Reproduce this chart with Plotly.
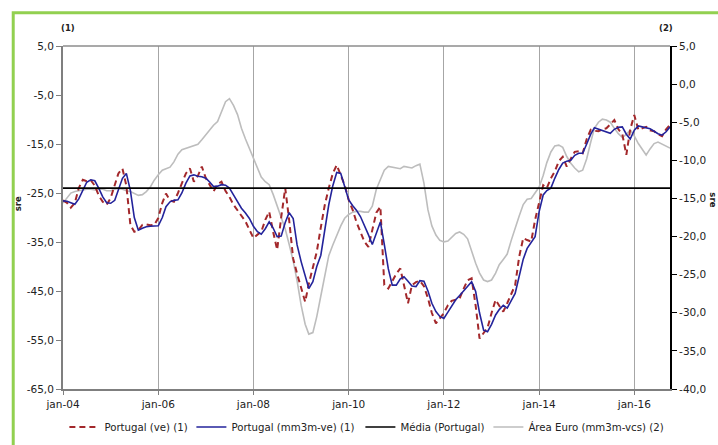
import pandas as pd
import plotly.graph_objects as go

# ---------------- data ----------------
START_MONTH = "2004-01-01"

PORTUGAL_VE = [
    -26.5, -27.0, -28.0, -27.0, -24.0, -22.3, -22.6, -22.4, -23.5, -25.5,
    -26.8, -27.4, -26.0, -23.4, -21.0, -20.0, -23.5, -31.5, -32.9, -32.6,
    -31.5, -31.4, -31.6, -31.5, -30.1, -27.0, -25.1, -26.5, -26.8, -25.0,
    -23.0, -21.0, -20.0, -22.7, -21.5, -19.6, -22.0, -23.5, -24.7, -23.2,
    -22.7, -24.6, -25.8, -27.4, -28.5, -29.5, -30.8, -32.5, -34.2, -33.5,
    -32.9, -30.5, -28.8, -33.0, -36.6, -30.0, -24.0, -30.5, -38.4, -41.5,
    -44.5, -47.2, -43.5, -40.0, -37.0, -32.0, -27.5, -24.0, -21.0, -19.3,
    -21.5, -23.4, -26.4, -28.5, -30.9, -33.0, -34.9, -36.0, -32.5, -29.0,
    -27.8, -43.8, -44.5, -43.0, -41.5, -40.4, -44.0, -47.5, -43.8, -43.2,
    -42.9, -44.0, -46.5, -49.5, -51.6, -50.5, -49.5, -47.9, -47.0, -46.8,
    -46.5, -44.5, -42.8, -42.4, -48.0, -54.7, -53.5, -52.5, -49.5, -46.8,
    -48.0, -49.2, -47.5, -45.5, -43.8, -38.0, -34.2, -34.6, -34.9, -30.5,
    -26.8, -23.4, -24.0, -22.0, -20.6, -18.5, -17.6, -19.6, -18.0, -16.6,
    -16.5, -16.9, -14.0, -12.1, -12.3, -12.4, -12.0, -11.8, -11.0, -10.1,
    -12.0, -13.0, -17.2, -12.0, -9.1, -12.1, -11.8, -11.5, -12.2, -12.4,
    -13.0, -13.4, -12.0, -11.1,
]

PORTUGAL_MM3M = [
    -26.6, -26.7, -27.0, -27.3, -26.2, -24.5, -22.8, -22.3, -22.5, -24.0,
    -25.8, -27.0, -27.1, -26.5, -24.5, -22.0, -21.0, -24.5, -30.0, -32.6,
    -32.2, -31.9, -31.8, -31.8, -31.7, -30.0, -27.8, -26.8, -26.5, -26.4,
    -25.0, -23.0, -21.5, -21.3, -21.6, -21.7, -22.0, -22.8, -23.7, -23.6,
    -23.3, -23.4, -24.0, -25.4, -26.9, -28.1, -29.1, -30.2, -31.8, -32.9,
    -33.4, -32.3, -30.9, -32.2, -33.9, -33.8, -31.0, -29.0, -30.2, -35.6,
    -39.0, -42.0, -44.5, -43.1, -40.0, -37.7, -32.5, -27.4, -23.5, -20.8,
    -21.0, -23.8, -26.4, -27.6, -28.5, -29.8, -31.5, -33.5, -35.5, -33.0,
    -30.9, -35.5, -40.5, -43.8, -43.8, -42.5, -42.1, -43.0, -44.0, -44.1,
    -42.9, -43.0, -45.0, -47.5, -49.2, -50.2, -50.6, -49.3, -48.0, -46.8,
    -45.9, -45.0, -44.0, -43.1, -45.1, -49.5, -53.0, -53.3, -51.8, -49.9,
    -48.8, -47.9, -48.5, -47.0, -45.5, -42.0, -38.5, -36.3, -35.0, -33.9,
    -28.8, -25.4, -24.5, -24.0, -22.0, -20.2, -18.9, -18.5, -18.3, -17.3,
    -16.9, -16.9, -15.0, -13.0, -11.7, -12.0, -12.3, -12.6, -12.8, -12.0,
    -11.6, -11.5, -13.0, -14.0, -12.2, -11.3, -11.5, -11.7, -11.9, -12.4,
    -12.9, -13.2, -12.5, -11.5,
]

AREA_EURO = [
    -15.6, -15.0, -14.3, -14.1, -14.0, -13.9, -13.8, -13.8, -13.9, -13.8,
    -13.8, -14.0, -14.0, -13.8, -13.7, -13.8, -14.0, -14.1, -14.4, -14.6,
    -14.5, -14.1, -13.5, -12.6, -11.9, -11.3, -11.1, -10.9, -10.2, -9.2,
    -8.6, -8.4, -8.2, -8.1, -7.9, -7.3, -6.6, -6.0, -5.4, -4.9,
    -3.5, -2.3, -1.9, -2.8, -4.0, -5.8, -7.2, -8.5, -9.8, -11.2,
    -12.2, -12.8, -13.2, -14.5, -15.9, -17.5, -19.0, -21.0, -23.2, -25.8,
    -29.0, -31.5, -32.8, -32.6, -30.5, -27.8, -25.0, -22.5, -21.1, -19.8,
    -18.6, -17.6, -17.1, -16.8, -16.7, -16.7, -16.8, -16.8, -16.0, -13.8,
    -12.4, -11.3, -10.8, -10.9, -11.0, -11.1, -10.8, -10.9, -11.0, -10.7,
    -10.5, -13.0, -16.5, -18.6, -19.8, -20.5, -20.7, -20.6, -20.1, -19.6,
    -19.4, -19.7, -20.3, -22.0, -23.5, -24.8, -25.7, -25.9, -25.7, -24.8,
    -23.7, -23.0, -22.3, -20.5, -18.8, -17.3, -15.8, -15.1, -15.0, -14.3,
    -13.5, -12.0, -10.3, -8.9, -8.1, -8.0, -8.3, -9.5, -10.4, -11.0,
    -11.5, -11.3, -9.8, -7.6, -5.8, -5.0, -4.6, -4.7, -5.0, -5.8,
    -6.5, -7.0, -6.6, -6.0, -6.8, -7.8, -8.6, -9.3, -8.5, -7.8,
    -7.6, -7.9, -8.2, -8.4,
]

MEDIA_PORTUGAL = -24.0

X_TICK_DATES = ["2004-01-01", "2006-01-01", "2008-01-01", "2010-01-01",
                "2012-01-01", "2014-01-01", "2016-01-01"]
X_TICK_LABELS = ["jan-04", "jan-06", "jan-08", "jan-10", "jan-12", "jan-14", "jan-16"]

LEFT_TICKS = [5, -5, -15, -25, -35, -45, -55, -65]
RIGHT_TICKS = [5, 0, -5, -10, -15, -20, -25, -30, -35, -40]

NAMES = ["Portugal (ve) (1)", "Portugal (mm3m-ve) (1)", "Média (Portugal)",
         "Área Euro (mm3m-vcs) (2)"]

# ---------------- figure ----------------
months = pd.date_range(START_MONTH, periods=len(PORTUGAL_VE), freq="MS")


def fmt(v):
    return f"{v:.1f}".replace(".", ",")


FONT = "DejaVu Sans"
TXT = "#222222"
RED = "#A3282B"
BLUE = "#23239B"
GRAY = "#BDBDBD"

fig = go.Figure()

fig.add_trace(go.Scatter(
    x=months, y=PORTUGAL_VE, name=NAMES[0], yaxis="y2", mode="lines",
    line=dict(color=RED, width=2, dash="6px,4px"), legendrank=1, legendwidth=80))
fig.add_trace(go.Scatter(
    x=months, y=PORTUGAL_MM3M, name=NAMES[1], yaxis="y2", mode="lines",
    line=dict(color=BLUE, width=1.6), legendrank=2, legendwidth=122))
fig.add_trace(go.Scatter(
    x=[months[0], months[-1]], y=[MEDIA_PORTUGAL, MEDIA_PORTUGAL],
    name=NAMES[2], yaxis="y2", mode="lines",
    line=dict(color="#000000", width=1.6), legendrank=3, legendwidth=81))
fig.add_trace(go.Scatter(
    x=months, y=AREA_EURO, name=NAMES[3], yaxis="y", mode="lines",
    line=dict(color=GRAY, width=1.6), legendrank=4, legendwidth=140))

fig.update_layout(
    width=718, height=445,
    margin=dict(l=63, r=48, t=46, b=56, autoexpand=False),
    paper_bgcolor="white", plot_bgcolor="white",
    font=dict(family=FONT, size=10.5, color=TXT),
    showlegend=True,
    legend=dict(orientation="h", xref="paper", yref="paper",
                x=-0.001, xanchor="left", y=-0.111, yanchor="middle",
                indentation=2,
                font=dict(family=FONT, size=10.2, color=TXT),
                bgcolor="rgba(0,0,0,0)", traceorder="normal", itemwidth=30),
    xaxis=dict(
        type="date", range=[months[0], months[-1]],
        tickvals=X_TICK_DATES, ticktext=X_TICK_LABELS,
        showgrid=True, gridcolor="#A6A6A6", gridwidth=1,
        showline=True, linecolor="#7F7F7F", linewidth=2,
        ticks="outside", ticklen=4, tickcolor="#7F7F7F",
        zeroline=False, tickfont=dict(family=FONT, size=10.5, color=TXT),
    ),
    yaxis=dict(
        side="right", range=[-40, 5],
        tickvals=RIGHT_TICKS, ticktext=[fmt(v) for v in RIGHT_TICKS],
        showgrid=False, zeroline=False,
        showline=True, linecolor="#000000", linewidth=2,
        ticks="outside", ticklen=5, tickcolor="#000000",
        tickfont=dict(family=FONT, size=10.5, color=TXT),
    ),
    yaxis2=dict(
        side="left", overlaying="y", range=[-65, 5],
        tickvals=LEFT_TICKS, ticktext=[fmt(v) for v in LEFT_TICKS],
        showgrid=False, zeroline=False,
        showline=True, linecolor="#7F7F7F", linewidth=2,
        ticks="outside", ticklen=5, tickcolor="#7F7F7F",
        tickfont=dict(family=FONT, size=10.5, color=TXT),
    ),
    shapes=[
        dict(type="line", xref="paper", yref="paper", x0=0, x1=1, y0=1, y1=1,
             line=dict(color="#8C8C8C", width=1.5)),
        dict(type="rect", xref="paper", yref="paper", x0=-0.082, x1=1.2,
             y0=-0.4, y1=1.097, line=dict(color="#92D050", width=3),
             fillcolor="rgba(0,0,0,0)", layer="below"),
    ],
    annotations=[
        dict(text="<b>(1)</b>", xref="paper", yref="paper", x=0.0082, y=1.052,
             xanchor="center", yanchor="middle", showarrow=False,
             font=dict(family=FONT, size=8.5, color=TXT)),
        dict(text="<b>(2)</b>", xref="paper", yref="paper", x=0.9934, y=1.052,
             xanchor="center", yanchor="middle", showarrow=False,
             font=dict(family=FONT, size=8.5, color=TXT)),
        dict(text="<b>sre</b>", xref="paper", yref="paper", x=-0.074, y=0.539,
             xanchor="center", yanchor="middle", textangle=-90, showarrow=False,
             font=dict(family=FONT, size=8.5, color=TXT)),
        dict(text="<b>sre</b>", xref="paper", yref="paper", x=1.0708, y=0.55,
             xanchor="center", yanchor="middle", textangle=90, showarrow=False,
             font=dict(family=FONT, size=8.5, color=TXT)),
    ],
)

fig.write_html(
    "out.html",
    config={"displayModeBar": False},
    post_script="document.body.style.margin='0';document.body.style.overflow='hidden';",
)
